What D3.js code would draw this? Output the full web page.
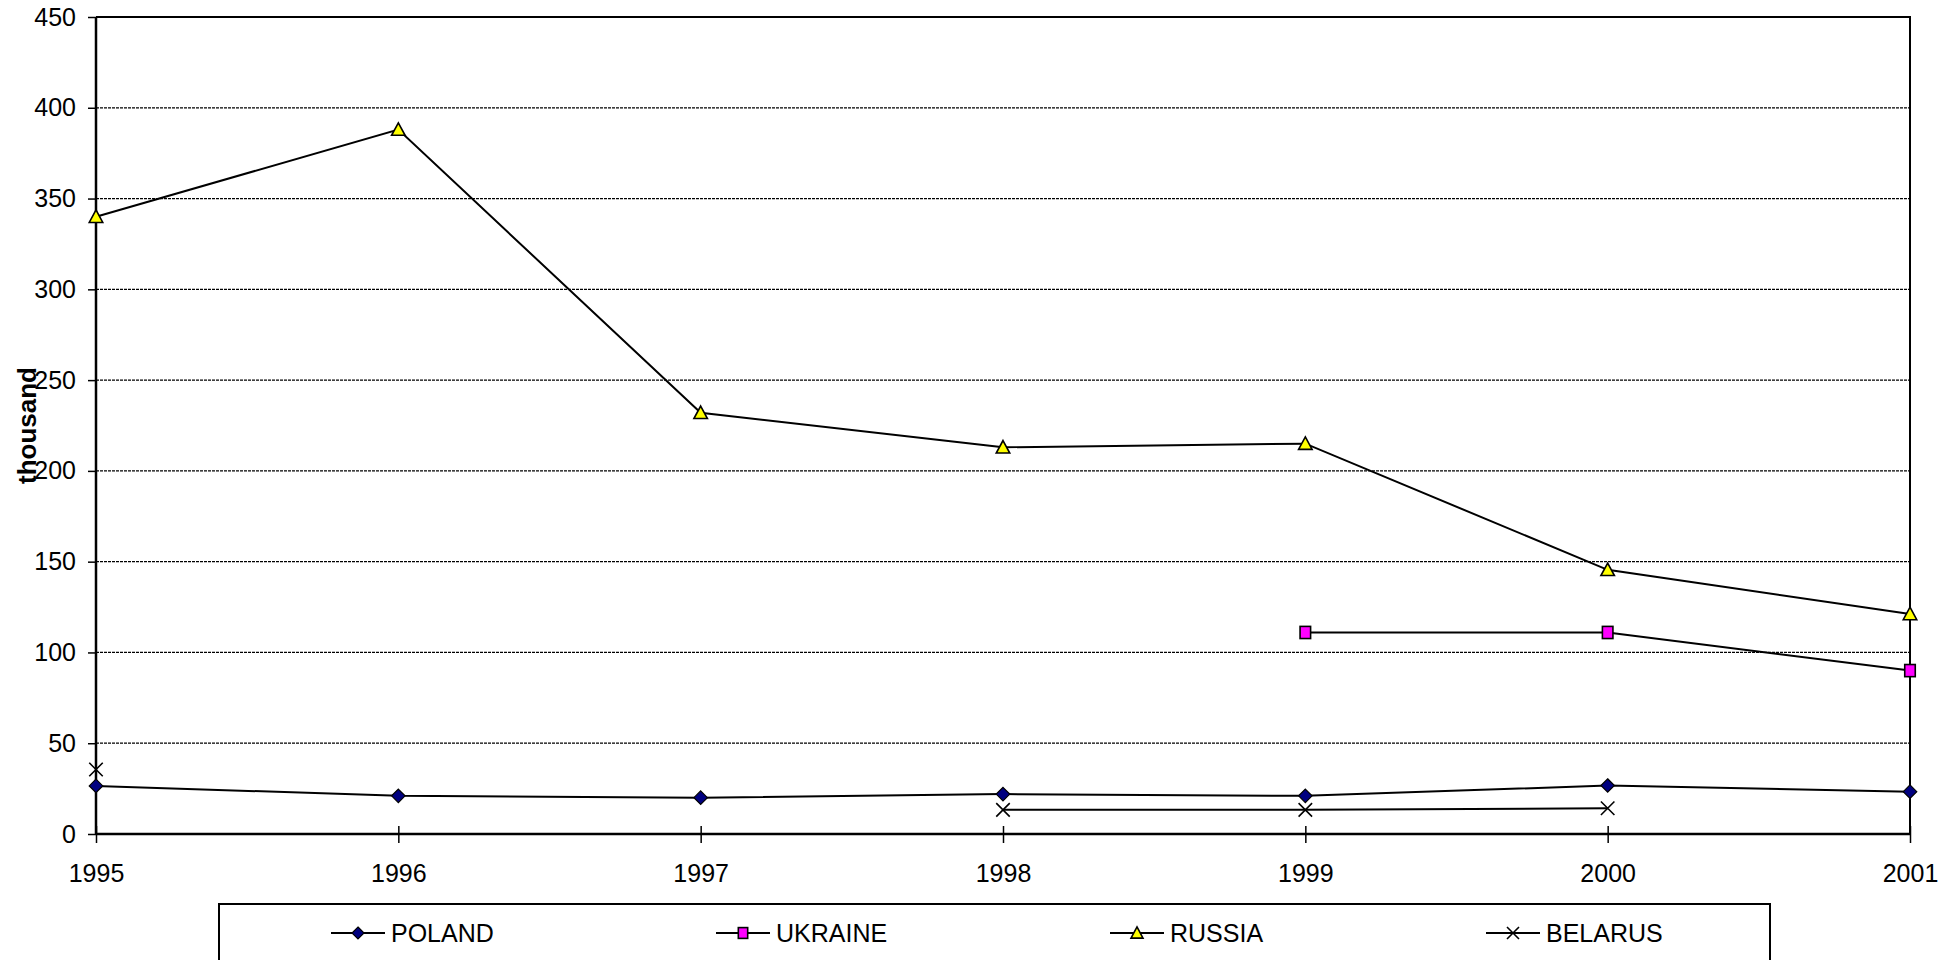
<!DOCTYPE html>
<html>
<head>
<meta charset="utf-8">
<script src="https://cdn.jsdelivr.net/npm/d3@7"></script>
<style>
  html, body { margin: 0; padding: 0; background: #fff; }
  svg { display: block; font-family: "Liberation Sans", Arial, sans-serif; }
</style>
</head>
<body>
<svg id="chart" width="1959" height="960"></svg>
<script>
// ---- data ----
const years = [1995, 1996, 1997, 1998, 1999, 2000, 2001];
const poland  = [26.5, 21, 20, 22, 21, 26.7, 23.3];
const ukraine = [null, null, null, null, 111, 111, 90];
const russia  = [340, 388, 232, 213, 215, 145.5, 121.2];
const belarus = [35.5, null, null, 13.3, 13.3, 14.2, null];
const yTicks = [0, 50, 100, 150, 200, 250, 300, 350, 400, 450];
const seriesNames = ["POLAND", "UKRAINE", "RUSSIA", "BELARUS"];
const yLabel = "thousand";

const series = [
  { name: seriesNames[0], values: poland,  marker: "diamond",  fill: "#000080" },
  { name: seriesNames[1], values: ukraine, marker: "square",   fill: "#FF00FF" },
  { name: seriesNames[2], values: russia,  marker: "triangle", fill: "#FFFF00" },
  { name: seriesNames[3], values: belarus, marker: "cross",    fill: "none" }
];

// ---- layout ----
const pL = 96, pR = 1910, pT = 17, pB = 834;
const svg = d3.select("#chart");

const x = d3.scalePoint().domain(years).range([pL, pR]);
const y = d3.scaleLinear().domain([0, 450]).range([pB, pT]);

// gridlines
svg.append("g")
  .selectAll("line")
  .data(yTicks.filter(t => t > 0))
  .join("line")
  .attr("x1", pL).attr("x2", pR)
  .attr("y1", d => y(d)).attr("y2", d => y(d))
  .attr("stroke", "#000").attr("stroke-width", 1.2)
  .attr("stroke-dasharray", "3,1");

// plot border (top & right)
svg.append("path")
  .attr("d", `M${pL},${pT}H${pR}V${pB}`)
  .attr("fill", "none").attr("stroke", "#000").attr("stroke-width", 2);

// y axis
const yAxis = svg.append("g")
  .attr("transform", `translate(${pL},0)`)
  .call(d3.axisLeft(y).tickValues(yTicks).tickSize(8).tickPadding(12).tickFormat(d3.format("d")));
yAxis.select(".domain").attr("stroke-width", 2.5).attr("d", `M0,${pT}V${pB}`);
yAxis.selectAll(".tick line").attr("stroke-width", 1.5);
yAxis.selectAll("text").attr("font-size", 25).attr("fill", "#000")
  .attr("font-family", "Liberation Sans, Arial, sans-serif");

// x axis
const xAxis = svg.append("g")
  .attr("transform", `translate(0,${pB})`)
  .call(d3.axisBottom(x).tickSize(0).tickPadding(30).tickFormat(d3.format("d")));
xAxis.select(".domain").attr("stroke-width", 2.5).attr("d", `M${pL},0H${pR}`);
xAxis.selectAll(".tick").append("line")
  .attr("y1", -8).attr("y2", 9).attr("stroke", "#000").attr("stroke-width", 1.5);
xAxis.selectAll("text").attr("font-size", 25).attr("fill", "#000")
  .attr("font-family", "Liberation Sans, Arial, sans-serif");

// y label
svg.append("text")
  .attr("transform", `translate(27,${(pT + pB) / 2}) rotate(-90)`)
  .attr("text-anchor", "middle")
  .attr("dy", "0.35em")
  .attr("font-size", 26).attr("font-weight", "bold")
  .text(yLabel);

// marker drawer
function drawMarker(g, type, fill, s) {
  if (type === "diamond") {
    g.append("path").attr("d", `M0,${-s/2}L${s/2},0L0,${s/2}L${-s/2},0Z`)
      .attr("fill", fill).attr("stroke", "#000").attr("stroke-width", 1.2);
  } else if (type === "square") {
    const w = s * 0.78, h = s * 0.9;
    g.append("rect").attr("x", -w/2).attr("y", -h/2).attr("width", w).attr("height", h)
      .attr("fill", fill).attr("stroke", "#000").attr("stroke-width", 1.6);
  } else if (type === "triangle") {
    const h = s * 0.85;
    g.append("path").attr("d", `M0,${-h/2 - 1}L${s/2},${h/2}L${-s/2},${h/2}Z`)
      .attr("fill", fill).attr("stroke", "#000").attr("stroke-width", 1.6);
  } else if (type === "cross") {
    const r = s / 2;
    g.append("path").attr("d", `M${-r},${-r}L${r},${r}M${-r},${r}L${r},${-r}`)
      .attr("stroke", "#000").attr("stroke-width", 1.6).attr("fill", "none");
  }
}

// lines + markers
const line = d3.line()
  .defined(d => d.v != null)
  .x(d => x(d.yr)).y(d => y(d.v));

series.forEach(s => {
  const pts = years.map((yr, i) => ({ yr, v: s.values[i] }));
  svg.append("path").datum(pts)
    .attr("d", line)
    .attr("fill", "none").attr("stroke", "#000").attr("stroke-width", 2);
});
series.forEach(s => {
  const pts = years.map((yr, i) => ({ yr, v: s.values[i] })).filter(d => d.v != null);
  pts.forEach(d => {
    const g = svg.append("g").attr("transform", `translate(${x(d.yr)},${y(d.v)})`);
    drawMarker(g, s.marker, s.fill, 13.5);
  });
});

// legend
svg.append("rect")
  .attr("x", 219).attr("y", 904).attr("width", 1551).attr("height", 80)
  .attr("fill", "#fff").attr("stroke", "#000").attr("stroke-width", 2);

const legendX = [331, 716, 1110, 1486];
const legendY = 933;
series.forEach((s, i) => {
  const g = svg.append("g").attr("transform", `translate(${legendX[i]},${legendY})`);
  g.append("line").attr("x1", 0).attr("x2", 54).attr("y1", 0).attr("y2", 0)
    .attr("stroke", "#000").attr("stroke-width", 2);
  const m = g.append("g").attr("transform", "translate(27,0)");
  drawMarker(m, s.marker, s.fill, 12);
  g.append("text").attr("x", 60).attr("dy", "0.35em")
    .attr("font-size", 25).text(s.name);
});
</script>
</body>
</html>
